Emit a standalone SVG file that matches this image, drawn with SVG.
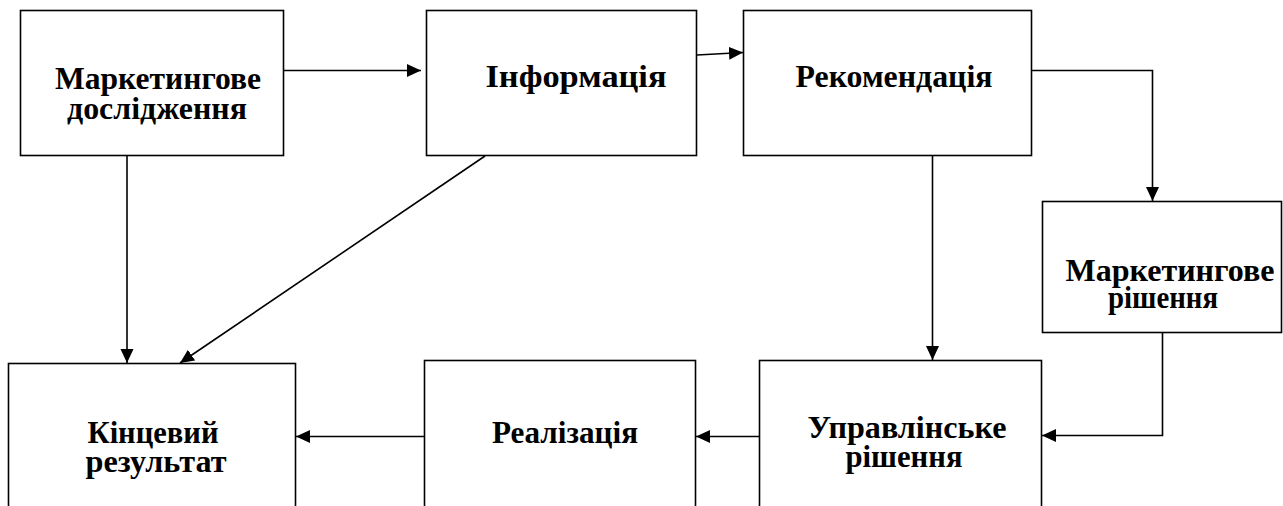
<svg xmlns="http://www.w3.org/2000/svg" width="1283" height="506" viewBox="0 0 1283 506">
<style>
.box{fill:#fff;stroke:#000;stroke-width:1.6}
text{font-family:'Liberation Serif','DejaVu Serif',serif;font-weight:700;font-size:32px;fill:#000;text-anchor:middle}
.c{fill:none;stroke:#000;stroke-width:1.6}
</style>
<defs>
<marker id="ah" markerUnits="userSpaceOnUse" markerWidth="14" markerHeight="14" refX="14" refY="6.5" orient="auto">
<path d="M0,0 L14,6.5 L0,13 z" fill="#000"/>
</marker>
</defs>
<g id="n1"><rect class="box" x="20.5" y="10.5" width="263" height="145"/>
<text x="158" y="89" textLength="206" lengthAdjust="spacingAndGlyphs">Маркетингове</text><text x="157" y="119" textLength="180" lengthAdjust="spacingAndGlyphs">дослідження</text></g>
<g id="n2"><rect class="box" x="426.5" y="10.5" width="270" height="145"/>
<text x="576" y="87" textLength="181" lengthAdjust="spacingAndGlyphs">Інформація</text></g>
<g id="n3"><rect class="box" x="743.5" y="10.5" width="288" height="145"/>
<text x="894" y="87" textLength="197" lengthAdjust="spacingAndGlyphs">Рекомендація</text></g>
<g id="n4"><rect class="box" x="1042.5" y="201.5" width="239" height="131"/>
<text x="1170" y="281" textLength="209" lengthAdjust="spacingAndGlyphs">Маркетингове</text><text x="1163" y="308" textLength="110" lengthAdjust="spacingAndGlyphs">рішення</text></g>
<g id="n5"><rect class="box" x="759.5" y="360.5" width="282" height="160"/>
<text x="907" y="438" textLength="199" lengthAdjust="spacingAndGlyphs">Управлінське</text><text x="904" y="467" textLength="117" lengthAdjust="spacingAndGlyphs">рішення</text></g>
<g id="n6"><rect class="box" x="424.5" y="360.5" width="271" height="160"/>
<text x="565" y="443" textLength="146" lengthAdjust="spacingAndGlyphs">Реалізація</text></g>
<g id="n7"><rect class="box" x="8.5" y="363.5" width="287" height="160"/>
<text x="153" y="443" textLength="131" lengthAdjust="spacingAndGlyphs">Кінцевий</text><text x="156" y="472" textLength="141" lengthAdjust="spacingAndGlyphs">результат</text></g>
<g id="connectors">
<line class="c" x1="284" y1="70.5" x2="421" y2="70.5" marker-end="url(#ah)"/>
<line class="c" x1="697" y1="55" x2="743" y2="52.5" marker-end="url(#ah)"/>
<polyline class="c" points="1032,70.5 1152.5,70.5 1152.5,201" marker-end="url(#ah)"/>
<line class="c" x1="932.5" y1="156" x2="932.5" y2="360" marker-end="url(#ah)"/>
<polyline class="c" points="1162.5,333 1162.5,435.5 1042,435.5" marker-end="url(#ah)"/>
<line class="c" x1="759" y1="436.5" x2="696" y2="436.5" marker-end="url(#ah)"/>
<line class="c" x1="424" y1="436.5" x2="296" y2="436.5" marker-end="url(#ah)"/>
<line class="c" x1="127" y1="156" x2="127" y2="363" marker-end="url(#ah)"/>
<line class="c" x1="485" y1="156" x2="180" y2="363" marker-end="url(#ah)"/>
</g>
</svg>
